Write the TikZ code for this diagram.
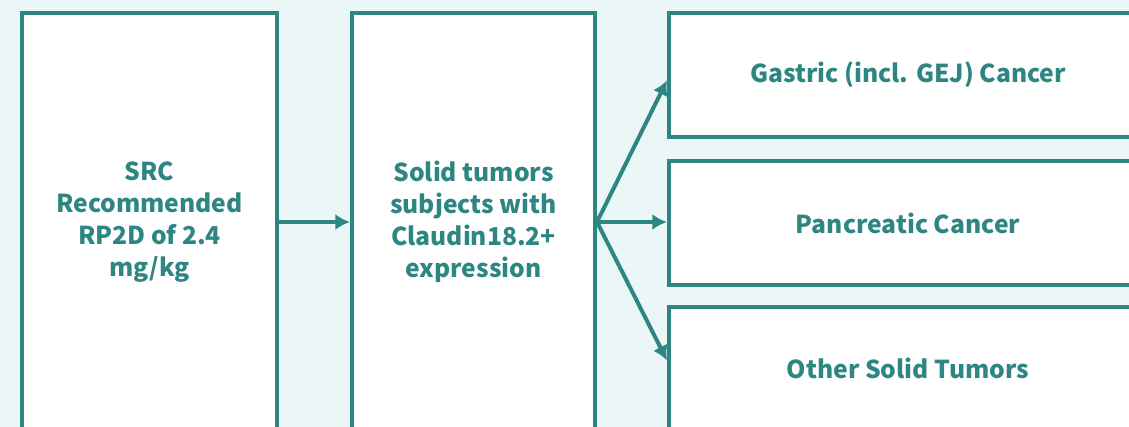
\documentclass[tikz,border=0pt]{standalone}
\usepackage{fontspec}
\newfontfamily\labelfont{Noto Sans CJK SC}
\usetikzlibrary{arrows.meta}

\definecolor{teal}{HTML}{2E8682}
\definecolor{paleback}{HTML}{EBF7F7}

\tikzset{
    stage/.style={draw=teal, line width=3pt, fill=white, align=center, text=teal,
        font=\labelfont\bfseries\fontsize{18.5}{24}\selectfont, inner sep=0pt},
    link/.style={-{Latex[length=11pt,width=12pt]}, draw=teal, line width=3pt}
}

\begin{document}
\begin{tikzpicture}[x=0.75pt, y=-0.75pt]
    \fill[paleback] (0,0) rectangle (1129,427);
    \useasboundingbox (0,0) rectangle (1129,427);

    \node[stage, minimum width=255*0.75pt, minimum height=418*0.75pt] (src) at (149.5,222) {SRC\\Recommended\\RP2D of 2.4\\mg/kg};
    \node[stage, minimum width=243*0.75pt, minimum height=417*0.75pt] (sub) at (473.5,222) {Solid tumors\\subjects with\\Claudin18.2+\\expression};

    \node[stage, minimum width=478*0.75pt, minimum height=124*0.75pt] (gas) at (908,75) {Gastric (incl. GEJ) Cancer};
    \node[stage, minimum width=478*0.75pt, minimum height=124*0.75pt] (pan) at (908,223) {Pancreatic Cancer};
    \node[stage, minimum width=478*0.75pt, minimum height=123*0.75pt] (oth) at (908,368.5) {Other Solid Tumors};

    \draw[link] (src) -- (sub);
    \draw[link] (sub.east) -- ([yshift=-4pt]gas.west);
    \draw[link] (sub.east) -- (sub.east -| pan.west);
    \draw[link] (sub.east) -- ([yshift=6pt]oth.west);
\end{tikzpicture}
\end{document}
